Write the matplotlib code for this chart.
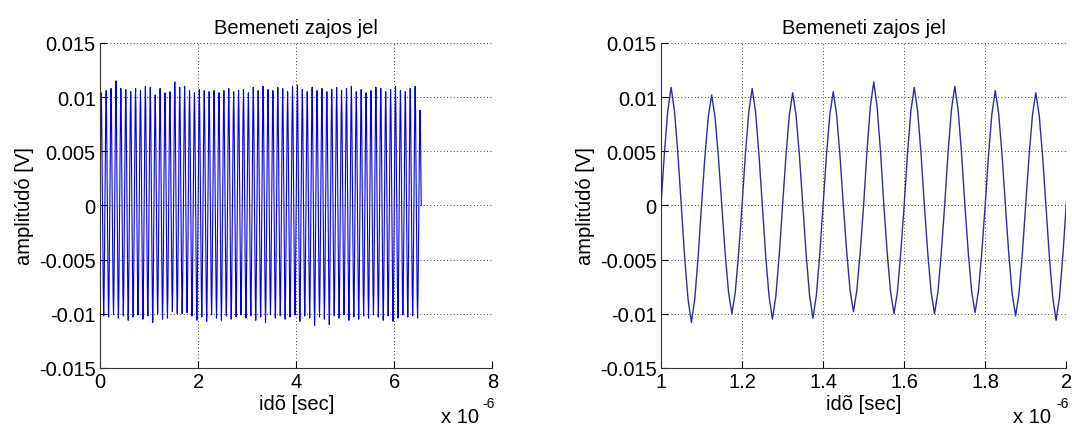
import numpy as np
import matplotlib
matplotlib.use("Agg")
import matplotlib.pyplot as plt

plt.rcParams['font.family'] = ['Liberation Sans', 'DejaVu Sans']
plt.rcParams['axes.unicode_minus'] = False

# 10 MHz noisy input, one cycle = 0.1 us, 12 samples per cycle
period = 0.1e-6
# relative sample levels inside one half-cycle
half_shape = [0.0, 0.44, 0.8, 1.0, 0.8, 0.44]

# positive peak of each cycle (66 positive half-cycles, 0 .. 6.55 us)
pos_peaks = [0.0104, 0.0106, 0.0108, 0.0115, 0.0108, 0.0107, 0.0105, 0.0108, 0.0106, 0.0110,
             0.0109, 0.0102, 0.0108, 0.0104, 0.0105, 0.0114, 0.0109, 0.0110, 0.0106, 0.0104,
             0.0107, 0.0106, 0.0105, 0.0106, 0.0104, 0.0106, 0.0108, 0.0105, 0.0106, 0.0107,
             0.0104, 0.0109, 0.0106, 0.0110, 0.0107, 0.0106, 0.0109, 0.0108, 0.0105, 0.0110,
             0.0111, 0.0107, 0.0105, 0.0109, 0.0106, 0.0108, 0.0105, 0.0107, 0.0109, 0.0106,
             0.0108, 0.0110, 0.0105, 0.0107, 0.0104, 0.0106, 0.0109, 0.0108, 0.0105, 0.0107,
             0.0110, 0.0106, 0.0105, 0.0108, 0.0110, 0.0088]
# negative peak of each cycle (65 negative half-cycles)
neg_peaks = [-0.0102, -0.0103, -0.0101, -0.0104, -0.0102, -0.0106, -0.0103, -0.0101, -0.0105, -0.0102,
             -0.0108, -0.0100, -0.0105, -0.0104, -0.0098, -0.0100, -0.0100, -0.0099, -0.0102, -0.0106,
             -0.0103, -0.0107, -0.0101, -0.0104, -0.0106, -0.0102, -0.0105, -0.0103, -0.0101, -0.0104,
             -0.0102, -0.0106, -0.0103, -0.0108, -0.0101, -0.0104, -0.0102, -0.0105, -0.0103, -0.0101,
             -0.0107, -0.0102, -0.0104, -0.0111, -0.0103, -0.0105, -0.0110, -0.0102, -0.0104, -0.0101,
             -0.0106, -0.0103, -0.0105, -0.0102, -0.0104, -0.0101, -0.0103, -0.0106, -0.0102, -0.0107,
             -0.0104, -0.0101, -0.0103, -0.0102, -0.0104]

yticks = [-0.015, -0.01, -0.005, 0, 0.005, 0.01, 0.015]
ytick_labels = ['-0.015', '-0.01', '-0.005', '0', '0.005', '0.01', '0.015']
xticks_full = [0, 2e-6, 4e-6, 6e-6, 8e-6]
xtick_labels_full = ['0', '2', '4', '6', '8']
xticks_zoom = [1.0e-6, 1.2e-6, 1.4e-6, 1.6e-6, 1.8e-6, 2.0e-6]
xtick_labels_zoom = ['1', '1.2', '1.4', '1.6', '1.8', '2']

# build the sampled series from the peak readings
halves = []
for p, n in zip(pos_peaks, neg_peaks + [None]):
    halves.append(p)
    if n is not None:
        halves.append(n)
sig = []
for a in halves:
    sig += [s * a for s in half_shape]
sig.append(0.0)
sig = np.array(sig)
t = np.arange(len(sig)) * period / (2 * len(half_shape))

fig = plt.figure(figsize=(10.72, 4.27), dpi=100)
ax1 = fig.add_axes([0.0933, 0.136, 0.366, 0.761])
ax2 = fig.add_axes([0.6166, 0.136, 0.378, 0.761])

ax1.plot(t, sig, color='#0000ee', lw=0.8)
ax2.plot(t, sig, color='#2e2e9a', lw=1.0)

for ax, xt, xl, xlim in [(ax1, xticks_full, xtick_labels_full, (0, 8e-6)),
                         (ax2, xticks_zoom, xtick_labels_zoom, (1e-6, 2e-6))]:
    ax.set_xlim(*xlim)
    ax.set_ylim(-0.015, 0.015)
    ax.set_xticks(xt)
    ax.set_xticklabels(xl)
    ax.set_yticks(yticks)
    ax.set_yticklabels(ytick_labels)
    ax.grid(True, linestyle=(0, (1, 3)), color='k', lw=0.6)
    ax.spines['top'].set_visible(False)
    ax.spines['right'].set_visible(False)
    ax.spines['left'].set_color('#333333')
    ax.spines['bottom'].set_color('#333333')
    ax.tick_params(direction='in', length=5, labelsize=14.5, pad=3)
    ax.set_title('Bemeneti zajos jel', fontsize=14.5, pad=7)
    ax.set_xlabel('idõ [sec]', fontsize=14.5, labelpad=2)
    ax.set_ylabel('amplitúdó [V]', fontsize=14.5, labelpad=4)
    ax.text(0.868, -0.165, 'x 10', transform=ax.transAxes, fontsize=14.5, va='baseline')
    ax.text(0.975, -0.12, '-6', transform=ax.transAxes, fontsize=10, va='baseline')

fig.savefig('out.png', dpi=100)
